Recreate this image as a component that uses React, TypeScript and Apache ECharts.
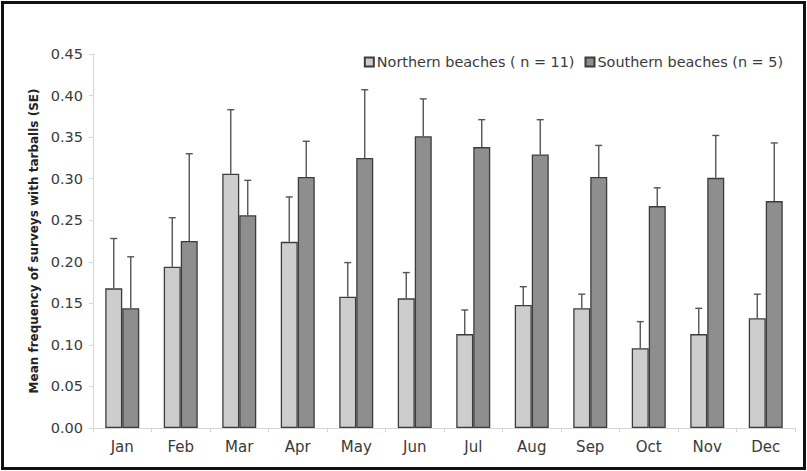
import React, { useEffect, useRef } from "react";
import * as echarts from "echarts";

const months = ["Jan", "Feb", "Mar", "Apr", "May", "Jun", "Jul", "Aug", "Sep", "Oct", "Nov", "Dec"];
const northernMean = [0.168, 0.194, 0.306, 0.224, 0.158, 0.156, 0.113, 0.148, 0.144, 0.096, 0.113, 0.132];
const northernUpper = [0.228, 0.253, 0.383, 0.278, 0.199, 0.187, 0.142, 0.170, 0.161, 0.128, 0.144, 0.161];
const southernMean = [0.144, 0.225, 0.256, 0.302, 0.325, 0.351, 0.338, 0.329, 0.302, 0.267, 0.301, 0.273];
const southernUpper = [0.206, 0.330, 0.298, 0.345, 0.407, 0.396, 0.371, 0.371, 0.340, 0.289, 0.352, 0.343];
const yTicks = [0, 0.05, 0.1, 0.15, 0.2, 0.25, 0.3, 0.35, 0.4, 0.45];

const BAR_W = 17;
const FONT = "'DejaVu Sans', Verdana, sans-serif";

function errorSeries(name: string, means: number[], uppers: number[], offset: number) {
  return {
    type: "custom",
    name,
    silent: true,
    z: 5,
    data: means.map((m, i) => [i, m, uppers[i]]),
    renderItem: (params: any, api: any) => {
      const idx = api.value(0);
      const base = api.coord([idx, api.value(1)]);
      const top = api.coord([idx, api.value(2)]);
      const x = base[0] + offset;
      const cap = 3.5;
      const style = { stroke: "#555555", lineWidth: 1.4 };
      return {
        type: "group",
        children: [
          { type: "line", shape: { x1: x, y1: base[1], x2: x, y2: top[1] }, style },
          { type: "line", shape: { x1: x - cap, y1: top[1], x2: x + cap, y2: top[1] }, style },
        ],
      };
    },
  };
}

export default function App() {
  const ref = useRef<HTMLDivElement>(null);

  useEffect(() => {
    document.body.style.margin = "0";
    const chart = echarts.init(ref.current!, null, { renderer: "svg" });
    chart.setOption({
      animation: false,
      backgroundColor: "#ffffff",
      textStyle: { fontFamily: FONT },
      graphic: [
        {
          type: "rect",
          shape: { x: 2.5, y: 2.5, width: 802, height: 466 },
          style: { fill: "none", stroke: "#111111", lineWidth: 3 },
          silent: true,
        },
      ],
      legend: {
        top: 50,
        right: 19,
        itemWidth: 9,
        itemHeight: 9,
        itemGap: 10,
        icon: "rect",
        textStyle: { fontSize: 14.4, color: "#3a3a3a", fontFamily: FONT, padding: [0, 0, 0, -2] },
        data: ["Northern beaches ( n = 11)", "Southern beaches (n = 5)"],
      },
      grid: { left: 93, right: 12, top: 54, bottom: 43 },
      xAxis: {
        type: "category",
        data: months,
        axisLine: { lineStyle: { color: "#d6d6d6", width: 1 } },
        axisTick: { show: true, length: 4, lineStyle: { color: "#d6d6d6" } },
        axisLabel: { fontSize: 15, color: "#3a3a3a", margin: 11, fontFamily: FONT },
      },
      yAxis: {
        type: "value",
        min: 0,
        max: 0.45,
        interval: 0.05,
        name: "Mean frequency of surveys with tarballs (SE)",
        nameLocation: "middle",
        nameGap: 51,
        nameTextStyle: { fontSize: 12, fontWeight: "bold", color: "#222222", fontFamily: FONT },
        axisLine: { show: true, lineStyle: { color: "#d6d6d6", width: 1 } },
        axisTick: { show: true, length: 4, lineStyle: { color: "#d6d6d6" } },
        splitLine: { show: false },
        axisLabel: {
          fontSize: 14.5,
          color: "#3a3a3a",
          margin: 10,
          fontFamily: FONT,
          formatter: (v: number) => {
            const t = yTicks.find((k) => Math.abs(k - v) < 1e-9);
            return (t ?? v).toFixed(2);
          },
        },
      },
      series: [
        {
          type: "bar",
          name: "Northern beaches ( n = 11)",
          data: northernMean,
          barWidth: BAR_W,
          barGap: "0%",
          itemStyle: { color: "#cdcdcd", borderColor: "#3c3c3c", borderWidth: 1.3 },
        },
        {
          type: "bar",
          name: "Southern beaches (n = 5)",
          data: southernMean,
          barWidth: BAR_W,
          barGap: "0%",
          itemStyle: { color: "#8e8e8e", borderColor: "#3c3c3c", borderWidth: 1.3 },
        },
        errorSeries("northernErr", northernMean, northernUpper, -BAR_W / 2),
        errorSeries("southernErr", southernMean, southernUpper, BAR_W / 2),
      ],
    });
    return () => chart.dispose();
  }, []);

  return <div ref={ref} style={{ width: 807, height: 471 }} />;
}
